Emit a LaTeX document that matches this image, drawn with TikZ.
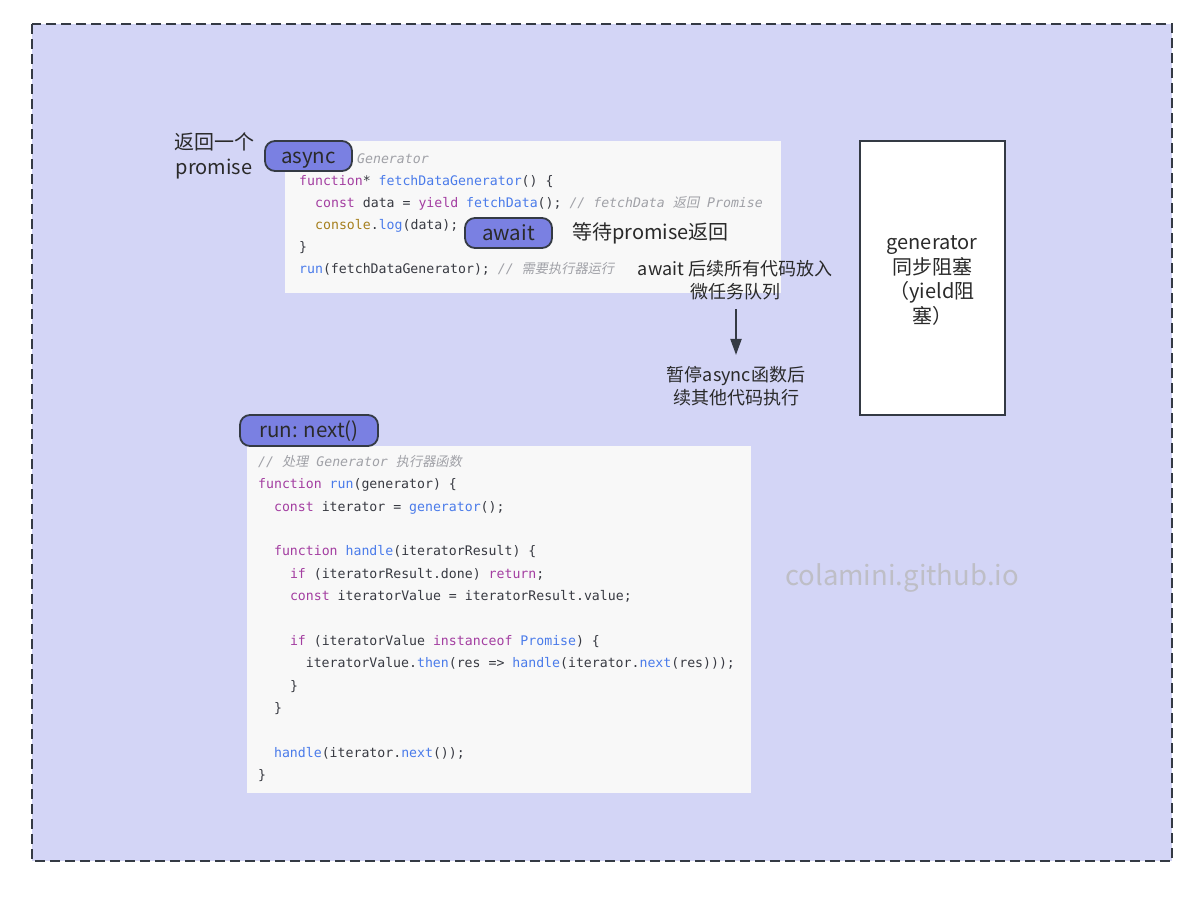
\documentclass[tikz,border=0pt]{standalone}
\usepackage{fontspec}
\setmainfont{Noto Sans CJK SC}
\newfontfamily\cjkslant[FakeSlant=0.2]{Noto Sans CJK SC}
\setmonofont{DejaVu Sans Mono}
\usetikzlibrary{arrows.meta}
\definecolor{bglav}{HTML}{D3D5F6}
\definecolor{framec}{HTML}{343A44}
\definecolor{codebgc}{HTML}{F8F8F8}
\definecolor{pillc}{HTML}{7A80E2}
\definecolor{kwc}{HTML}{A33EA1}
\definecolor{fnc}{HTML}{4A7BEA}
\definecolor{brc}{HTML}{A67F1D}
\definecolor{codedark}{HTML}{383A42}
\definecolor{cmc}{HTML}{A0A1A7}
\definecolor{labelc}{HTML}{2A2A2A}
\definecolor{wmc}{HTML}{BEBEC6}
\newcommand\ckw[1]{\textcolor{kwc}{#1}}
\newcommand\cfn[1]{\textcolor{fnc}{#1}}
\newcommand\cbr[1]{\textcolor{brc}{#1}}
\newcommand\ccm[1]{{\color{cmc}\itshape #1}}
\newcommand\ccj[1]{{\cjkslant #1}}
\tikzset{
  outerframe/.style={draw=framec, fill=bglav, line width=1.8pt, dash pattern=on 10pt off 5pt},
  codebg/.style={fill=codebgc, draw=none, inner sep=0},
  codeline/.style={anchor=base west, inner sep=0, text=codedark, font=\ttfamily\fontsize{13.2}{15}\selectfont},
  pill/.style={draw=framec, fill=pillc, line width=1.8pt, rounded corners=10pt, inner sep=0, text height=17pt, text depth=3pt, text=labelc, font=\fontsize{20.5}{24}\selectfont},
  lbl/.style={inner sep=0, text=labelc, align=center, font=\fontsize{20}{24.8}\selectfont},
  lblsmall/.style={inner sep=0, text=labelc, align=center, font=\fontsize{18}{23}\selectfont},
  genbox/.style={draw=framec, fill=white, line width=1.8pt, inner sep=0},
  arrowc/.style={draw=framec, line width=2pt, -{Triangle[length=16pt,width=11pt]}},
  watermark/.style={inner sep=0, text=wmc, font=\fontsize{27.5}{32}\selectfont}
}
\begin{document}
\begin{tikzpicture}[x=1pt,y=-1pt]
\useasboundingbox[fill=white] (0,0) rectangle (1204,897);
\draw[outerframe] (32,24) rectangle (1172,861);

% top code block
\node[codebg, minimum width=496pt, minimum height=152pt] (codeA) at (533,217) {};
\node[codeline] (a0) at (357,163.5) {\ccm{Generator}};
\node[codeline] (a1) at (299,185.5) {\ckw{function}* \cfn{fetchDataGenerator}() \{};
\node[codeline] (a2) at (315,207.5) {\ckw{const} data = \ckw{yield} \cfn{fetchData}(); \ccm{// fetchData \ccj{返回} Promise}};
\node[codeline] (a3) at (315,229.5) {\cbr{console}.\cfn{log}(data);};
\node[codeline] (a4) at (299,251.5) {\}};
\node[codeline] (a5) at (299,273.5) {\cfn{run}(fetchDataGenerator); \ccm{// \ccj{需要执行器运行}}};

% bottom code block
\node[codebg, minimum width=504pt, minimum height=347pt] (codeB) at (499,619.5) {};
\node[codeline] (b0) at (258,466.5) {\ccm{// \ccj{处理} Generator \ccj{执行器函数}}};
\node[codeline] (b1) at (258,488.85) {\ckw{function} \cfn{run}(generator) \{};
\node[codeline] (b2) at (273.9,511.2) {\ckw{const} iterator = \cfn{generator}();};
\node[codeline] (b4) at (273.9,555.9) {\ckw{function} \cfn{handle}(iteratorResult) \{};
\node[codeline] (b5) at (289.8,578.25) {\ckw{if} (iteratorResult.done) \ckw{return};};
\node[codeline] (b6) at (289.8,600.6) {\ckw{const} iteratorValue = iteratorResult.value;};
\node[codeline] (b8) at (289.8,645.3) {\ckw{if} (iteratorValue \ckw{instanceof} \cfn{Promise}) \{};
\node[codeline] (b9) at (305.6,667.65) {iteratorValue.\cfn{then}(res => \cfn{handle}(iterator.\cfn{next}(res)));};
\node[codeline] (b10) at (289.8,690) {\}};
\node[codeline] (b11) at (273.9,712.35) {\}};
\node[codeline] (b13) at (273.9,757.05) {\cfn{handle}(iterator.\cfn{next}());};
\node[codeline] (b14) at (258,779.4) {\}};

% pills
\node[pill, minimum width=87pt, minimum height=30pt] (async) at (308.5,156) {async};
\node[pill, minimum width=87pt, minimum height=30pt] (await) at (508.5,233) {await};
\node[pill, minimum width=138pt, minimum height=31pt] (runnext) at (309,430.5) {run: next()};

% labels
\node[lbl] (retp) at (214,155.5) {返回一个\\promise};
\node[lbl, anchor=west] (waitp) at (572,233.5) {等待promise返回};
\node[lblsmall] (note) at (735,280) {await 后续所有代码放入\\微任务队列};
\node[lblsmall] (pause) at (736,386) {暂停async函数后\\续其他代码执行};
\draw[arrowc, shorten <=9pt, shorten >=11pt] (note.south -| pause.north) -- (pause.north);

% generator box
\node[genbox, minimum width=145pt, minimum height=274pt] (genb) at (932.5,278) {};
\node[lbl] (gent) at (932,280.5) {generator\\同步阻塞\\（yield阻\\塞）};

% watermark
\node[watermark] (wm) at (902,578) {colamini.github.io};
\end{tikzpicture}
\end{document}
